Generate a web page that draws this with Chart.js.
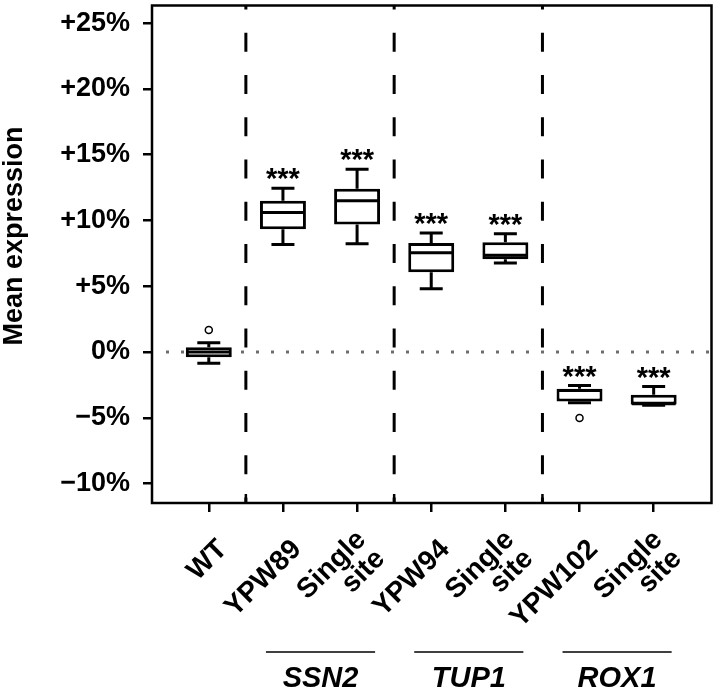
<!DOCTYPE html>
<html>
<head>
<meta charset="utf-8">
<script src="https://cdn.jsdelivr.net/npm/chart.js@4.4.1/dist/chart.umd.min.js"></script>
<style>
  html, body { margin: 0; padding: 0; background: #fff; }
  canvas { display: block; }
</style>
</head>
<body>
<canvas id="chart" width="717" height="693"></canvas>
<script>
// strains on the x axis (multi-line labels as arrays)
const strains = [['WT'], ['YPW89'], ['Single', 'site'], ['YPW94'], ['Single', 'site'], ['YPW102'], ['Single', 'site']];

// box plot summaries, % change in mean expression
const whiskerLow  = [-0.86, 8.18, 8.23, 4.80, 6.77, -3.85, -4.05];
const q1          = [-0.40, 9.34, 9.70, 6.06, 7.05, -3.77, -4.00];
const median      = [ 0.00, 10.60, 11.50, 7.55, 7.35, -2.93, -3.94];
const q3          = [ 0.36, 11.50, 12.40, 8.28, 8.35, -2.80, -3.26];
const whiskerHigh = [ 0.70, 12.45, 13.90, 9.04, 8.99, -2.55, -2.63];

const outlierX = [0, 5];
const outlierY = [1.67, -5.02];

const stars = ['', '***', '***', '***', '***', '***', '***'];

const genes = ['SSN2', 'TUP1', 'ROX1'];
const geneFrom = [1, 3, 5];
const geneTo = [2, 4, 6];
const separators = [0.5, 2.5, 4.5];

const yTicks = [-10, -5, 0, 5, 10, 15, 20, 25];
const yTitle = 'Mean expression';

const FONT = '"Liberation Sans", Arial, Helvetica, sans-serif';

function fmtPct(v) {
  if (v > 0) return '+' + v + '%';
  if (v < 0) return '\u2212' + Math.abs(v) + '%';
  return '0%';
}

function noPad(s) {
  s.paddingTop = 0;
  s.paddingBottom = 0;
  s.paddingLeft = 0;
  s.paddingRight = 0;
}

const boxPlot = {
  id: 'boxPlot',
  beforeDatasetsDraw(chart) {
    const { ctx, chartArea: a, scales: { x, y } } = chart;
    ctx.save();
    // dotted zero line
    const y0 = y.getPixelForValue(0);
    ctx.strokeStyle = '#6e6e6e';
    ctx.lineWidth = 3;
    ctx.setLineDash([3, 12]);
    ctx.beginPath();
    ctx.moveTo(a.left + 14, y0);
    ctx.lineTo(a.right, y0);
    ctx.stroke();
    // dashed group separators
    ctx.strokeStyle = '#000';
    ctx.lineWidth = 3;
    ctx.setLineDash([19, 23.25]);
    ctx.lineDashOffset = 15;
    separators.forEach(s => {
      const px = x.getPixelForValue(s);
      ctx.beginPath();
      ctx.moveTo(px, a.top);
      ctx.lineTo(px, a.bottom);
      ctx.stroke();
    });
    ctx.setLineDash([]);
    // small inward ticks at the separators
    ctx.lineWidth = 2.5;
    separators.forEach(s => {
      const px = x.getPixelForValue(s);
      ctx.beginPath();
      ctx.moveTo(px, a.bottom);
      ctx.lineTo(px, a.bottom - 9);
      ctx.stroke();
    });
    ctx.restore();
  },
  afterDatasetsDraw(chart) {
    const { ctx, chartArea: a, scales: { y } } = chart;
    const bars = chart.getDatasetMeta(0).data;
    ctx.save();
    ctx.strokeStyle = '#000';
    ctx.fillStyle = '#000';
    ctx.lineWidth = 3;
    bars.forEach((bar, i) => {
      const cx = bar.x, hw = bar.width / 2, cap = bar.width / 4;
      const pTop = y.getPixelForValue(whiskerHigh[i]);
      const pBot = y.getPixelForValue(whiskerLow[i]);
      ctx.beginPath();
      // whiskers
      ctx.moveTo(cx, y.getPixelForValue(q3[i])); ctx.lineTo(cx, pTop);
      ctx.moveTo(cx, y.getPixelForValue(q1[i])); ctx.lineTo(cx, pBot);
      ctx.moveTo(cx - cap, pTop); ctx.lineTo(cx + cap, pTop);
      ctx.moveTo(cx - cap, pBot); ctx.lineTo(cx + cap, pBot);
      // median
      const pm = y.getPixelForValue(median[i]);
      ctx.moveTo(cx - hw + 1, pm); ctx.lineTo(cx + hw - 1, pm);
      ctx.stroke();
      // significance stars
      if (stars[i]) {
        ctx.font = 'bold 29px ' + FONT;
        ctx.textAlign = 'center';
        ctx.textBaseline = 'alphabetic';
        const m = ctx.measureText(stars[i]);
        const mid = pTop - 14;
        ctx.fillText(stars[i], cx, mid + (m.actualBoundingBoxAscent - m.actualBoundingBoxDescent) / 2);
      }
    });
    // frame
    ctx.lineWidth = 2.5;
    ctx.strokeRect(a.left, a.top, a.right - a.left, a.bottom - a.top);
    ctx.restore();
  },
  afterDraw(chart) {
    const { ctx, scales: { x } } = chart;
    ctx.save();
    ctx.fillStyle = '#000';
    ctx.strokeStyle = '#000';
    // y axis title, a little above the axis centre as in the figure
    ctx.save();
    ctx.font = 'bold 27px ' + FONT;
    ctx.textAlign = 'center';
    ctx.textBaseline = 'alphabetic';
    ctx.translate(22, 236);
    ctx.rotate(-Math.PI / 2);
    ctx.fillText(yTitle, 0, 0);
    ctx.restore();
    // rotated strain labels
    ctx.font = 'bold 28px ' + FONT;
    ctx.textAlign = 'right';
    ctx.textBaseline = 'middle';
    strains.forEach((lines, i) => {
      const px = x.getPixelForValue(i);
      ctx.save();
      ctx.translate(px + 14, 545);
      ctx.rotate(-Math.PI / 4);
      lines.forEach((t, j) => ctx.fillText(t, 0, (j - (lines.length - 1) / 2) * 27));
      ctx.restore();
    });
    // gene brackets
    ctx.lineWidth = 1.6;
    ctx.font = 'italic bold 29px ' + FONT;
    ctx.textAlign = 'center';
    genes.forEach((g, k) => {
      const x1 = x.getPixelForValue(geneFrom[k]) - 17;
      const x2 = x.getPixelForValue(geneTo[k]) + 18;
      ctx.beginPath();
      ctx.moveTo(x1, 652);
      ctx.lineTo(x2, 652);
      ctx.stroke();
      ctx.fillText(g, (x1 + x2) / 2, 679);
    });
    ctx.restore();
  }
};

new Chart(document.getElementById('chart'), {
  type: 'bar',
  data: {
    datasets: [
      {
        type: 'bar',
        data: strains.map((_, i) => ({ x: i, y: [q1[i], q3[i]] })),
        backgroundColor: '#fff',
        borderColor: '#000',
        borderWidth: 3,
        borderSkipped: false,
        barPercentage: 0.62,
        categoryPercentage: 1,
        order: 2
      },
      {
        type: 'scatter',
        data: outlierX.map((v, i) => ({ x: v, y: outlierY[i] })),
        pointRadius: 3.5,
        pointBorderWidth: 1.5,
        pointBackgroundColor: '#fff',
        pointBorderColor: '#000',
        order: 1
      }
    ]
  },
  options: {
    responsive: false,
    animation: false,
    layout: { padding: { top: 4, right: 4, left: 0, bottom: 0 } },
    plugins: { legend: { display: false }, tooltip: { enabled: false } },
    scales: {
      x: {
        type: 'linear',
        offset: false,
        min: -0.766,
        max: 6.78,
        afterBuildTicks: s => { s.ticks = strains.map((_, i) => ({ value: i })); },
        afterFit: s => { s.height = 190; noPad(s); },
        ticks: { display: false },
        grid: { offset: false, drawOnChartArea: false, drawTicks: true, tickLength: 9, color: '#000', lineWidth: 2.5 },
        border: { display: false }
      },
      y: {
        min: -11.48,
        max: 26.34,
        afterBuildTicks: s => { s.ticks = yTicks.map(v => ({ value: v })); },
        afterFit: s => { s.width = 152; noPad(s); },
        ticks: {
          callback: v => fmtPct(v),
          color: '#000',
          padding: 13,
          font: { family: FONT, weight: 'bold', size: 27 }
        },
        grid: { drawOnChartArea: false, drawTicks: true, tickLength: 9, color: '#000', lineWidth: 2.5 },
        border: { display: false },
        title: { display: false }
      }
    }
  },
  plugins: [boxPlot]
});
</script>
</body>
</html>
